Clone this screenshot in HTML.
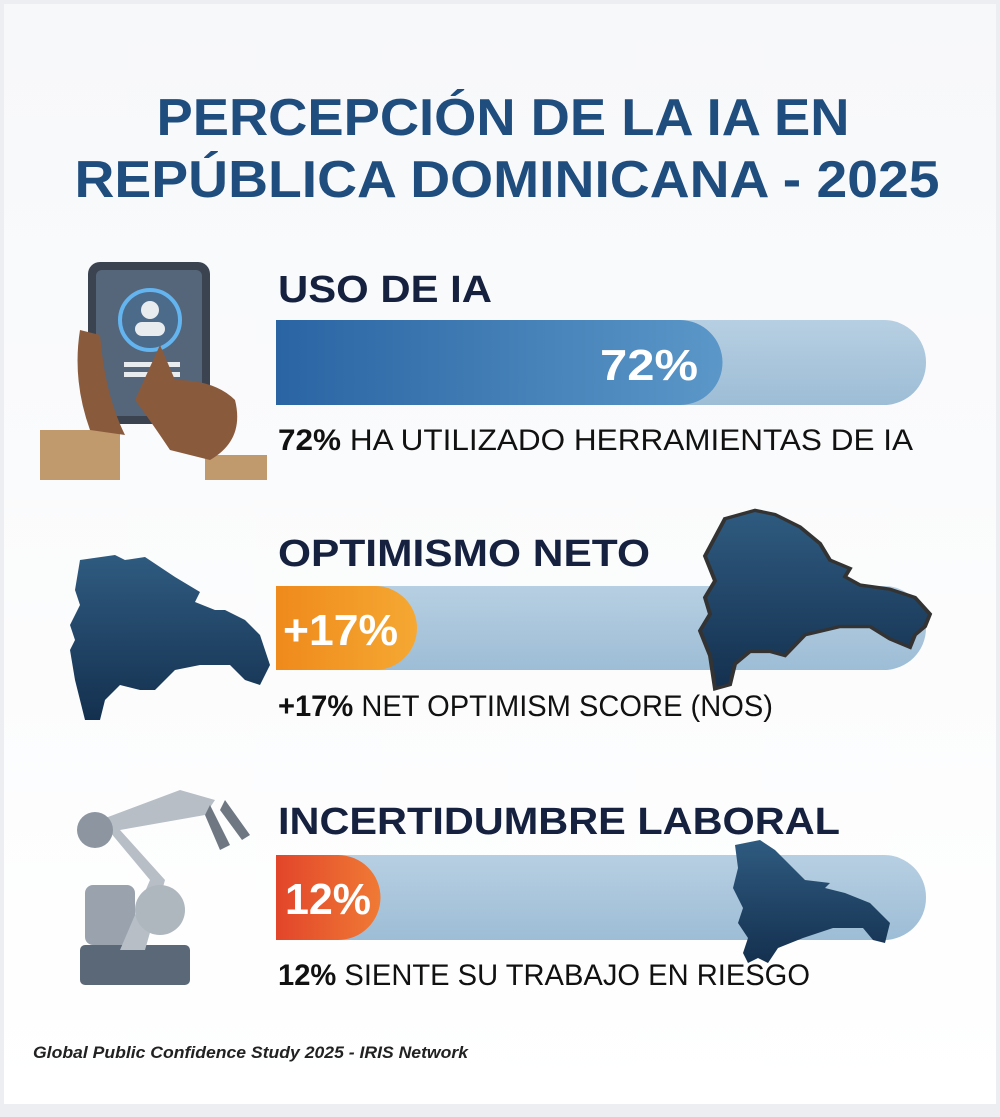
<!DOCTYPE html>
<html><head><meta charset="utf-8"><style>
html,body{margin:0;padding:0;background:#fff}
svg{display:block}
</style></head><body>
<svg width="1000" height="1117" viewBox="0 0 1000 1117" xmlns="http://www.w3.org/2000/svg" font-family="Liberation Sans, sans-serif">
<defs>
<linearGradient id="bg" x1="0" y1="0" x2="0" y2="1"><stop offset="0" stop-color="#f7f8fa"/><stop offset="1" stop-color="#ffffff"/></linearGradient>
<linearGradient id="b1" x1="0" x2="1"><stop offset="0" stop-color="#2a64a3"/><stop offset="1" stop-color="#5b97c8"/></linearGradient>
<linearGradient id="tr" x1="0" y1="0" x2="0" y2="1"><stop offset="0" stop-color="#b7cfe2"/><stop offset="1" stop-color="#9dbdd6"/></linearGradient>
<linearGradient id="or" x1="0" x2="1"><stop offset="0" stop-color="#ef8a1c"/><stop offset="1" stop-color="#f5a833"/></linearGradient>
<linearGradient id="rd" x1="0" x2="1"><stop offset="0" stop-color="#e2452a"/><stop offset="1" stop-color="#f07a35"/></linearGradient>
<linearGradient id="mp" x1="0" y1="0" x2="0" y2="1"><stop offset="0" stop-color="#2f5b80"/><stop offset="1" stop-color="#14304f"/></linearGradient>
</defs>
<rect x="0" y="0" width="1000" height="1117" fill="#eceef1"/>
<rect x="4" y="4" width="992" height="1100" fill="url(#bg)"/>
<!-- Title -->
<text x="503" y="135" text-anchor="middle" font-size="52" font-weight="bold" fill="#1f4d7e" textLength="693" lengthAdjust="spacingAndGlyphs">PERCEPCIÓN DE LA IA EN</text>
<text x="507" y="197" text-anchor="middle" font-size="52" font-weight="bold" fill="#1f4d7e" textLength="865" lengthAdjust="spacingAndGlyphs">REPÚBLICA DOMINICANA - 2025</text>

<!-- Section 1 -->
<text x="278" y="302" font-size="38" font-weight="bold" fill="#15213f" textLength="214" lengthAdjust="spacingAndGlyphs">USO DE IA</text>
<rect x="276" y="320" width="650" height="85" rx="42" fill="url(#tr)"/>
<path d="M276 320 H680 A42 42 0 0 1 680 405 H276 Z" fill="url(#b1)"/>
<text x="600" y="380" font-size="44" font-weight="bold" fill="#fff" textLength="98" lengthAdjust="spacingAndGlyphs">72%</text>
<text x="278" y="450" font-size="30" fill="#111" textLength="635" lengthAdjust="spacingAndGlyphs"><tspan font-weight="bold">72%</tspan> HA UTILIZADO HERRAMIENTAS DE IA</text>
<!-- tablet -->
<rect x="40" y="430" width="80" height="50" fill="#c09a6c"/>
<rect x="205" y="455" width="62" height="25" fill="#c09a6c"/>
<rect x="88" y="262" width="122" height="162" rx="12" fill="#3b4350"/>
<rect x="96" y="270" width="106" height="146" rx="6" fill="#55667a"/>
<circle cx="150" cy="320" r="30" fill="#4c6a8a" stroke="#63b4ef" stroke-width="4"/>
<circle cx="150" cy="310" r="9" fill="#e8ecef"/><rect x="135" y="322" width="30" height="14" rx="7" fill="#e8ecef"/>
<rect x="124" y="362" width="56" height="5" fill="#e8ecef"/><rect x="124" y="372" width="56" height="5" fill="#e8ecef"/>
<path d="M80 330 q-8 50 10 100 l35 5 q-20-40 -25-100 z" fill="#8a5a3c"/>
<path d="M160 345 l15 35 q40 0 60 20 q10 40 -25 60 l-40-10 q-20-30 -35-50 z" fill="#8a5a3c"/>

<!-- Section 2 -->
<text x="278" y="566" font-size="38" font-weight="bold" fill="#15213f" textLength="372" lengthAdjust="spacingAndGlyphs">OPTIMISMO NETO</text>
<rect x="276" y="586" width="650" height="84" rx="42" fill="url(#tr)"/>
<path d="M276 586 H375 A42 42 0 0 1 375 670 H276 Z" fill="url(#or)"/>
<text x="283" y="645" font-size="44" font-weight="bold" fill="#fff" textLength="115" lengthAdjust="spacingAndGlyphs">+17%</text>
<text x="278" y="716" font-size="30" fill="#111" textLength="495" lengthAdjust="spacingAndGlyphs"><tspan font-weight="bold">+17%</tspan> NET OPTIMISM SCORE (NOS)</text>
<path d="M80 560 l35-5 10 5 20-3 30 20 25 15 -5 10 20 8 10 0 20 10 15 15 10 30 -10 20 -15-5 -15-15 -30 0 -25 5 -20 20 -15 0 -20 -5 -15 15 -5 20 -15 0 -10-40 -5-30 5-10 -5-15 10-20 -5-15 z" fill="url(#mp)"/>
<g transform="translate(725,512) scale(1,0.83) translate(-725,-512)">
<path d="M725 520 l30-10 20 5 25 15 20 20 10 20 20 10 -5 10 15 10 30 5 25 10 15 20 -5 15 -10 10 -5 15 -20-10 -20-15 -30 0 -35 10 -20 25 -15 -5 -20 0 -15 15 -5 25 -15 5 -5-40 -10-30 10-20 -5-20 10-20 -10-30 z" fill="url(#mp)" stroke="#333" stroke-width="4"/>
</g>

<!-- Section 3 -->
<text x="278" y="834" font-size="38" font-weight="bold" fill="#15213f" textLength="562" lengthAdjust="spacingAndGlyphs">INCERTIDUMBRE LABORAL</text>
<rect x="276" y="855" width="650" height="85" rx="42" fill="url(#tr)"/>
<path d="M276 855 H338 A42 42 0 0 1 338 940 H276 Z" fill="url(#rd)"/>
<text x="285" y="914" font-size="44" font-weight="bold" fill="#fff" textLength="86" lengthAdjust="spacingAndGlyphs">12%</text>
<text x="278" y="985" font-size="30" fill="#111" textLength="532" lengthAdjust="spacingAndGlyphs"><tspan font-weight="bold">12%</tspan> SIENTE SU TRABAJO EN RIESGO</text>
<path d="M735 845 l25-5 15 10 20 20 10 10 25 3 -5 5 20 5 25 10 20 20 -5 20 -12 -3 -10-12 -30 0 -30 10 -25 10 -10 15 -10 -5 -10 5 -5-10 5-15 -10-15 5-15 -10-20 5-20 z" fill="url(#mp)"/>
<!-- robot -->
<rect x="80" y="945" width="110" height="40" rx="5" fill="#5a6878"/>
<rect x="85" y="885" width="50" height="60" rx="8" fill="#9aa3ad"/>
<path d="M120 950 L150 880 L100 820 L180 790 L215 800 L205 815 L120 830 L165 880 L145 950 Z" fill="#b7bec6"/>
<circle cx="160" cy="910" r="25" fill="#aeb6be"/>
<circle cx="95" cy="830" r="18" fill="#8d96a0"/>
<path d="M210 805 l20 40 -10 5 -15-35 z M225 800 l25 35 -8 5 -22-30 z" fill="#6f7882"/>

<!-- Footer -->
<text x="33" y="1058" font-size="17" font-weight="bold" font-style="italic" fill="#222" textLength="435" lengthAdjust="spacingAndGlyphs">Global Public Confidence Study 2025 - IRIS Network</text>
</svg>
</body></html>
